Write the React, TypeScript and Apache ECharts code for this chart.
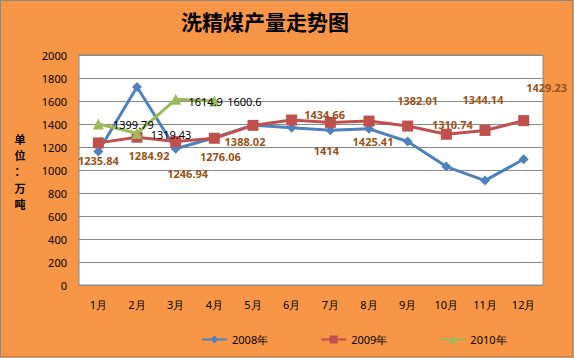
import React, { useEffect, useRef } from "react";
import * as echarts from "echarts";

const months = ["1月", "2月", "3月", "4月", "5月", "6月", "7月", "8月", "9月", "10月", "11月", "12月"];
const yTicks = { min: 0, max: 2000, interval: 200 };
const s2008 = [1160, 1722, 1185, 1280, 1390, 1368, 1345, 1358, 1248, 1030, 908, 1093];
const s2009 = [1235.84, 1284.92, 1246.94, 1276.06, 1388.02, 1434.66, 1414, 1425.41, 1382.01, 1310.74, 1344.14, 1429.23];
const s2010 = [1399.79, 1319.43, 1614.9, 1600.6];
const seriesNames = ["2008年", "2009年", "2010年"];
const yAxisNameChars = ["单", "位", "：", "万", "吨"];

// label layout offsets (pixels from marker)
const off2009 = [[0, 18], [12, 18], [12, 32], [6, 18], [-8, 16], [33, -6], [-4, 28], [4, 20], [10, -26], [6, -10], [-2, -31], [23, -33]];
const off2010 = [[35, 0], [34, 1], [30, 2], [30, 1]];

export default function App() {
  const ref = useRef<HTMLDivElement>(null);
  useEffect(() => {
    document.body.style.margin = "0";
    const chart = echarts.init(ref.current!, null, { renderer: "svg" });
    const labelFont = "'Noto Sans', sans-serif";
    chart.setOption({
      animation: false,
      backgroundColor: "#F79646",
      title: {
        text: "洗精煤产量走势图",
        left: 260,
        textAlign: "center",
        top: 5,
        textStyle: { fontFamily: "'Noto Sans CJK SC'", fontWeight: "bold", fontSize: 21, color: "#000" },
      },
      graphic: [
        {
          type: "rect",
          shape: { x: 0.5, y: 0.5, width: 572, height: 356 },
          style: { fill: "none", stroke: "#8a8a8a", lineWidth: 1 },
          silent: true,
        },
        ...yAxisNameChars.map((c, i) => ({
          type: "text",
          x: 20,
          y: 139 + i * 16.2,
          style: {
            text: c,
            fontFamily: "'Noto Sans CJK SC'",
            fontWeight: "bold",
            fontSize: 11,
            fill: "#000",
            align: "center",
            verticalAlign: "middle",
          },
        })),
      ],
      grid: {
        left: 79,
        right: 31,
        top: 55,
        bottom: 73,
        show: true,
        backgroundColor: "#ffffff",
        borderColor: "#8a8a8a",
        borderWidth: 1,
      },
      legend: {
        data: seriesNames,
        left: 196,
        top: 329,
        itemWidth: 25,
        itemHeight: 10,
        itemGap: 52,
        textStyle: { fontFamily: labelFont, fontSize: 11, color: "#000" },
      },
      xAxis: {
        type: "category",
        data: months,
        boundaryGap: true,
        axisTick: { show: false },
        axisLine: { show: true, lineStyle: { color: "#8a8a8a" } },
        axisLabel: { fontFamily: labelFont, fontSize: 11, color: "#000", margin: 14 },
      },
      yAxis: {
        type: "value",
        min: yTicks.min,
        max: yTicks.max,
        interval: yTicks.interval,
        axisLine: { show: false },
        axisTick: { show: false },
        axisLabel: {
          fontFamily: labelFont,
          fontSize: 11,
          color: "#000",
          margin: 12,
          formatter: (v: number) => String(v),
        },
        splitLine: { lineStyle: { color: "#8a8a8a", width: 1 } },
      },
      series: [
        {
          name: seriesNames[0],
          type: "line",
          data: s2008,
          symbol: "diamond",
          symbolSize: 10,
          lineStyle: { color: "#4F81BD", width: 3 },
          itemStyle: { color: "#4F81BD" },
          z: 2,
        },
        {
          name: seriesNames[1],
          type: "line",
          data: s2009.map((v, i) => ({
            value: v,
            label: { offset: off2009[i] },
          })),
          symbol: "rect",
          symbolSize: 11,
          lineStyle: { color: "#C0504D", width: 3 },
          itemStyle: { color: "#C0504D" },
          label: {
            show: true,
            position: "inside",
            align: "center",
            verticalAlign: "middle",
            fontFamily: labelFont,
            fontWeight: "bold",
            fontSize: 11,
            color: "#9A5318",
          },
          z: 3,
        },
        {
          name: seriesNames[2],
          type: "line",
          data: s2010.map((v, i) => ({
            value: v,
            label: { offset: off2010[i] },
          })),
          symbol: "triangle",
          symbolSize: 11,
          lineStyle: { color: "#9BBB59", width: 3 },
          itemStyle: { color: "#9BBB59" },
          label: {
            show: true,
            position: "inside",
            align: "center",
            verticalAlign: "middle",
            fontFamily: labelFont,
            fontSize: 11,
            color: "#000",
          },
          z: 4,
        },
      ],
    });
    return () => chart.dispose();
  }, []);
  return <div ref={ref} style={{ width: 574, height: 358, position: "absolute", left: 0, top: 0 }} />;
}
